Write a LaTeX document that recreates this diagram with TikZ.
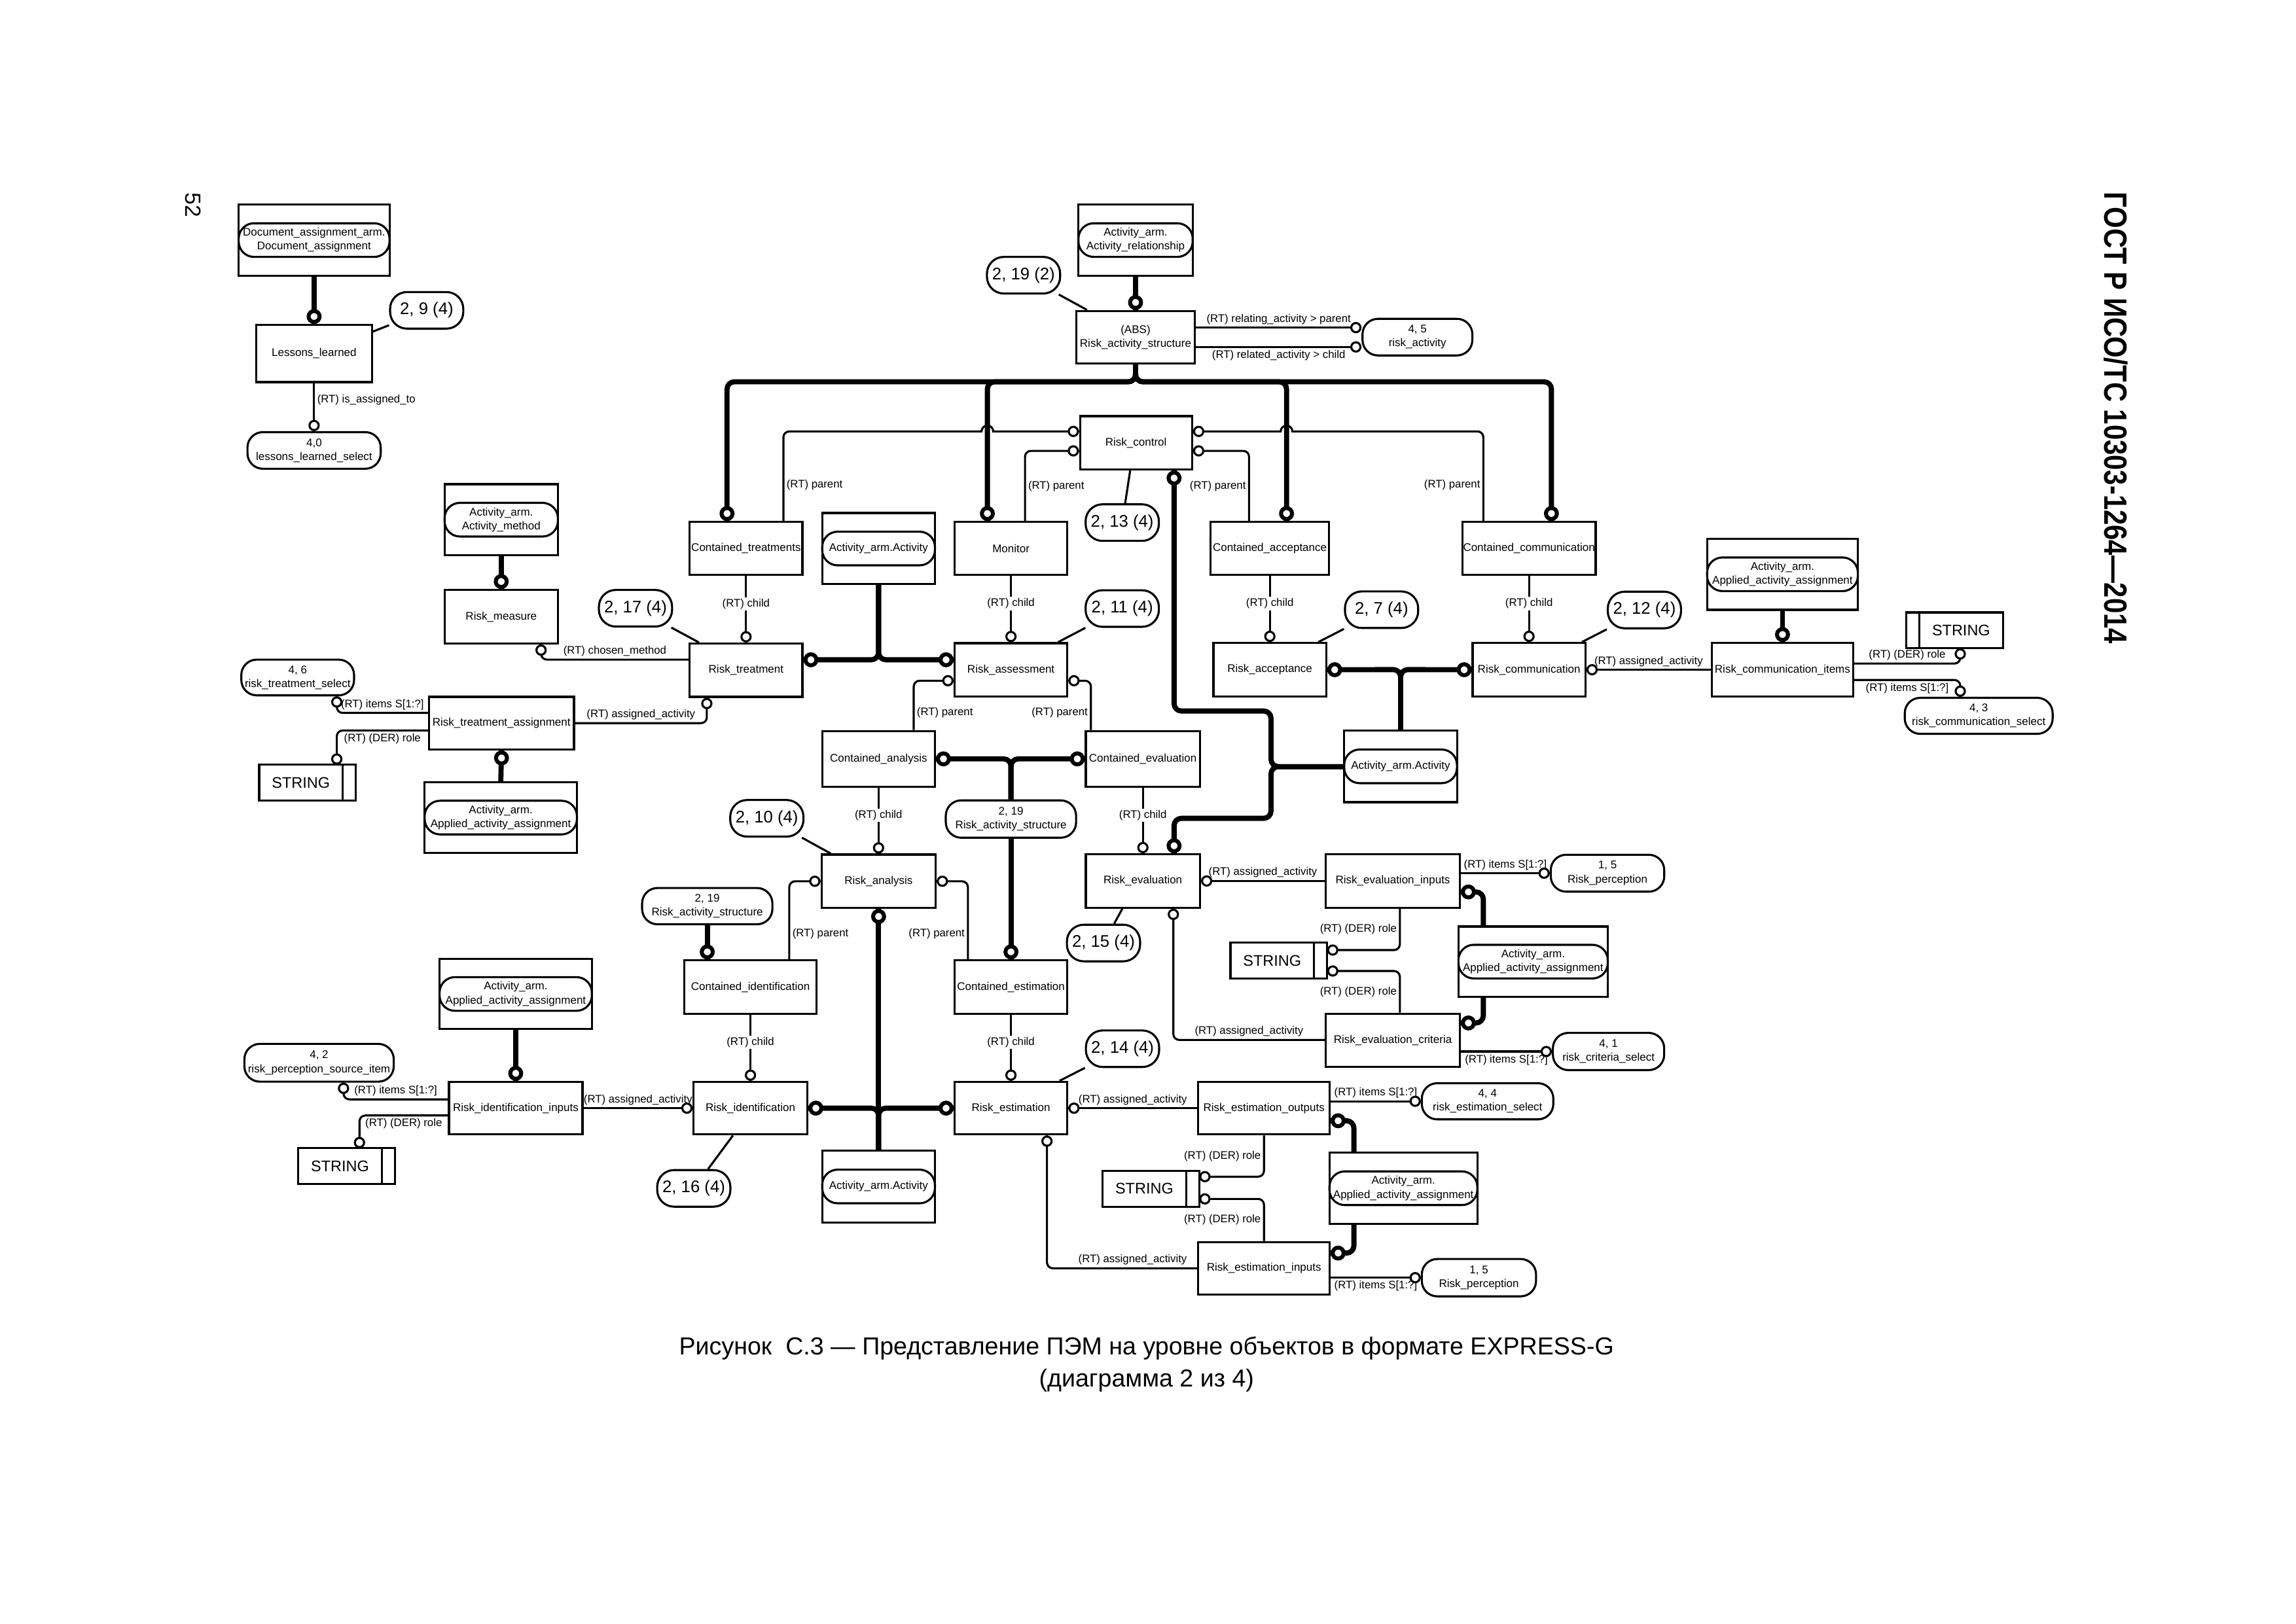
\documentclass[tikz,border=0pt]{standalone}
\usepackage{fontspec}
\setmainfont{Liberation Sans}
\newfontfamily\hdrfont{Liberation Sans}[FakeStretch=0.85]

\tikzset{
  ent/.style={draw, line width=1.4pt, minimum width=77pt, minimum height=36.5pt,
    inner sep=0pt, align=center, font=\fontsize{7.6}{9.5}\selectfont},
  ext/.style={draw, line width=1.4pt, minimum width=77pt, minimum height=48.5pt, inner sep=0pt},
  typ/.style={draw, line width=1.4pt, rounded corners=10.5pt, minimum width=77pt,
    minimum height=23pt, inner sep=0pt, align=center, font=\fontsize{7.6}{9.5}\selectfont},
  pg/.style={draw, line width=1.4pt, rounded corners=11.5pt, minimum width=50pt,
    minimum height=25pt, inner sep=0pt, font=\fontsize{11.5}{12}\selectfont},
  strbox/.style={draw, line width=1.4pt, minimum width=66pt, minimum height=24.5pt,
    inner sep=0pt, outer sep=0pt, font=\fontsize{10.5}{11}\selectfont},
  rel/.style={line width=1.4pt},
  sub/.style={line width=3.5pt, rounded corners=5pt},
  oc/.style={circle, draw, fill=white, line width=1.4pt, minimum size=6.3pt, inner sep=0pt},
  tc/.style={circle, draw, fill=white, line width=2.7pt, minimum size=7.5pt, inner sep=0pt},
  lab/.style={inner sep=1.5pt, font=\fontsize{7.5}{9}\selectfont},
  clab/.style={lab, fill=white, inner sep=1pt}
}

\begin{document}
\begin{tikzpicture}[x=1pt, y=-1pt]
\useasboundingbox (0,0) rectangle (1568,1109);

\node[rotate=-90, font=\fontsize{15}{15}\selectfont] (pnum) at (132,140) {52};
\node[rotate=-90, font=\hdrfont\bfseries\fontsize{22}{22}\selectfont] (hdr) at (1445,285.5) {ГОСТ Р ИСО/ТС 10303-1264—2014};

\node[ext, minimum width=103pt] (das) at (214.5,164) {};
\node[typ, minimum width=103pt] (das_p) at (das) {Document\_assignment\_arm.\\Document\_assignment};
\node[ent, minimum width=79pt, minimum height=39pt] (ll) at (214.5,241.5) {Lessons\_learned};
\node[pg] (p29) at (291.4,212) {2, 9 (4)};
\node[typ, minimum width=91pt, minimum height=25pt] (lls) at (214.5,307.7) {4,0\\lessons\_learned\_select};

\node[ext, minimum width=78pt] (aar) at (775.5,164) {};
\node[typ, minimum width=78pt] (aar_p) at (aar) {Activity\_arm.\\Activity\_relationship};
\node[ent, minimum width=81pt, minimum height=36pt] (ras) at (775.5,230.4) {(ABS)\\Risk\_activity\_structure};
\node[pg] (p192) at (699,188) {2, 19 (2)};
\node[typ, minimum width=75pt, minimum height=25pt] (rsa) at (968,230.3) {4, 5\\risk\_activity};

\node[ent, minimum width=76.5pt] (rc) at (775.8,302.5) {Risk\_control};
\node[pg] (p213) at (766.4,357) {2, 13 (4)};
\node[ent, minimum height=36pt] (ctr) at (509.5,374.6) {Contained\_treatments};
\node[ext] (aa1) at (600,374.7) {};
\node[typ] (aa1_p) at (aa1) {Activity\_arm.Activity};
\node[ent, minimum height=36pt] (mon) at (690.4,374.6) {Monitor};
\node[ent, minimum width=81pt, minimum height=36pt] (cacc) at (867.2,374.6) {Contained\_acceptance};
\node[ent, minimum width=91pt, minimum height=36pt] (ccom) at (1044.2,374.6) {Contained\_communication};

\node[ext, minimum width=77.4pt] (aam) at (342.3,355) {};
\node[typ, minimum width=77.4pt] (aam_p) at (aam) {Activity\_arm.\\Activity\_method};
\node[ent, minimum width=77.4pt] (rm) at (342.3,421.3) {Risk\_measure};
\node[pg] (p217) at (434,415.5) {2, 17 (4)};
\node[ent] (rt) at (509.5,457.8) {Risk\_treatment};
\node[ent] (ra) at (690.4,457.6) {Risk\_assessment};
\node[pg] (p211) at (766.4,415.7) {2, 11 (4)};
\node[ent] (racc) at (867.2,457.5) {Risk\_acceptance};
\node[pg] (p27) at (943.5,416.5) {2, 7 (4)};
\node[ent] (rcom) at (1044.2,457.5) {Risk\_communication};
\node[pg] (p212) at (1123,416.7) {2, 12 (4)};
\node[ent, minimum width=96.5pt] (rci) at (1217.3,457.5) {Risk\_communication\_items};
\node[ext, minimum width=103pt] (aaa2) at (1217.3,392.3) {};
\node[typ, minimum width=103pt] (aaa2_p) at (aaa2) {Activity\_arm.\\Applied\_activity\_assignment};
\node[strbox] (s2) at (1334.8,430.6) {\hspace*{9pt}STRING};
\node[typ, minimum width=101pt, minimum height=24.6pt] (rcs) at (1351.3,489) {4, 3\\risk\_communication\_select};

\node[typ, minimum height=24.4pt] (rts) at (203.3,462.8) {4, 6\\risk\_treatment\_select};
\node[ent, minimum width=99pt, minimum height=36pt] (rta) at (342.5,494) {Risk\_treatment\_assignment};
\node[strbox] (s1) at (210,534.6) {STRING\hspace*{9pt}};
\node[ext, minimum width=104pt, minimum height=48pt] (aaa1) at (342,558.5) {};
\node[typ, minimum width=104pt] (aaa1_p) at (aaa1) {Activity\_arm.\\Applied\_activity\_assignment};

\node[ent, minimum height=38pt] (cana) at (600,518.4) {Contained\_analysis};
\node[ent, minimum width=78pt, minimum height=38pt] (ceva) at (780.5,518.4) {Contained\_evaluation};
\node[typ, minimum width=89pt, minimum height=25.5pt] (rasA) at (690.4,559.5) {2, 19\\Risk\_activity\_structure};
\node[ext, minimum height=49pt] (aa2) at (956.5,523.5) {};
\node[typ] (aa2_p) at (aa2) {Activity\_arm.Activity};

\node[pg] (p210) at (523.7,559) {2, 10 (4)};
\node[ent, minimum width=78pt] (ran) at (600,602) {Risk\_analysis};
\node[ent, minimum width=78pt] (rev) at (780.5,601.8) {Risk\_evaluation};
\node[ent, minimum width=91.6pt] (rei) at (951.2,601.8) {Risk\_evaluation\_inputs};
\node[typ, minimum width=77.5pt, minimum height=25.2pt] (rp1) at (1097.8,596.5) {1, 5\\Risk\_perception};
\node[pg] (p215) at (753.6,644.2) {2, 15 (4)};
\node[strbox] (s3) at (873.3,656.3) {STRING\hspace*{9pt}};
\node[ext, minimum width=102pt, minimum height=48pt] (aaa3) at (1047,656.9) {};
\node[typ, minimum width=102pt] (aaa3_p) at (aaa3) {Activity\_arm.\\Applied\_activity\_assignment};
\node[ent, minimum width=91.6pt] (rec) at (951.2,710.7) {Risk\_evaluation\_criteria};
\node[typ, minimum width=76pt, minimum height=25.4pt] (rcr) at (1098.5,718.3) {4, 1\\risk\_criteria\_select};

\node[typ, minimum width=89pt, minimum height=24.8pt] (rasB) at (483,619) {2, 19\\Risk\_activity\_structure};
\node[ent, minimum width=90.2pt] (cid) at (512.5,674.3) {Contained\_identification};
\node[ent] (ces) at (690.4,674.3) {Contained\_estimation};

\node[ext, minimum width=104pt, minimum height=48pt] (aaa4) at (352.2,679) {};
\node[typ, minimum width=104pt] (aaa4_p) at (aaa4) {Activity\_arm.\\Applied\_activity\_assignment};
\node[typ, minimum width=102pt, minimum height=25.8pt] (rps) at (217.9,726) {4, 2\\risk\_perception\_source\_item};
\node[ent, minimum width=91.2pt, minimum height=36pt] (rii) at (352.2,757) {Risk\_identification\_inputs};
\node[strbox] (s4) at (236.7,796.6) {STRING\hspace*{9pt}};
\node[ent, minimum width=77.7pt, minimum height=36pt] (rid) at (512.5,757) {Risk\_identification};
\node[pg] (p216) at (473.8,811.8) {2, 16 (4)};
\node[ext, minimum height=49pt] (aa3) at (600,810.5) {};
\node[typ] (aa3_p) at (aa3) {Activity\_arm.Activity};
\node[ent, minimum height=36pt] (res) at (690.4,757) {Risk\_estimation};
\node[pg] (p214) at (766.6,716.4) {2, 14 (4)};
\node[ent, minimum width=89.7pt, minimum height=36pt] (reo) at (863.2,757) {Risk\_estimation\_outputs};
\node[typ, minimum width=89.8pt, minimum height=24.7pt] (rs4) at (1015.9,752.3) {4, 4\\risk\_estimation\_select};
\node[strbox] (s5) at (786,812) {STRING\hspace*{9pt}};
\node[ext, minimum width=101pt, minimum height=48.4pt] (aaa5) at (958.4,811.7) {};
\node[typ, minimum width=101pt] (aaa5_p) at (aaa5) {Activity\_arm.\\Applied\_activity\_assignment};
\node[ent, minimum width=89.7pt, minimum height=36pt] (rein) at (863.2,866.4) {Risk\_estimation\_inputs};
\node[typ, minimum width=78pt, minimum height=25.5pt] (rp2) at (1010,872.8) {1, 5\\Risk\_perception};

\foreach \s in {s1,s3,s4,s5}
  \draw[line width=1.4pt] ([xshift=-9pt]\s.north east) -- ([xshift=-9pt]\s.south east);
\draw[line width=1.4pt] ([xshift=9pt]s2.north west) -- ([xshift=9pt]s2.south west);

\node[font=\fontsize{16.8}{22}\selectfont, align=center] (cap) at (783,932)
  {Рисунок~~С.3 — Представление ПЭМ на уровне объектов в формате EXPRESS-G\\(диаграмма 2 из 4)};

\draw[sub] (das.south) -- (ll.north) node[tc,anchor=south]{};
\draw[rel] (ll.east |- 0,226.5) -- (p29);
\draw[rel] (ll) -- node[lab,right,pos=.35]{(RT) is\_assigned\_to} (lls.north) node[oc,anchor=south]{};

\draw[sub] (aar.south) -- (ras.north) node[tc,anchor=south]{};
\draw[rel] (p192) -- ([xshift=8pt]ras.north west);
\draw[rel] (ras.east |- 0,223.8) -- node[lab,above]{(RT) relating\_activity > parent} (rsa.west |- 0,223.8) node[oc,anchor=east]{};
\draw[rel] (ras.east |- 0,237) -- node[lab,below]{(RT) related\_activity > child} (rsa.west |- 0,237) node[oc,anchor=east]{};

\foreach \bx/\tgt in {496.5/ctr, 674.3/mon, 878.6/cacc, 1059.5/ccom}
  \draw[sub] (ras.south) -- (775.5,260.8) -- (\bx,260.8) -- (\tgt.north -| \bx,0) node[tc,anchor=south]{};

\draw[rel] (rc.west |- 0,294.7) node[oc,anchor=east]{} -- (678.3,294.7) arc(0:180:4pt)
  [rounded corners=4pt] -- (535,294.7) -- node[lab,right,pos=.6]{(RT) parent} (ctr.north -| 535,0);
\draw[rel] (rc.east |- 0,294.7) node[oc,anchor=west]{} -- (874.6,294.7) arc(180:0:4pt)
  [rounded corners=4pt] -- (1013,294.7) -- node[lab,left,pos=.6]{(RT) parent} (ccom.north -| 1013,0);
\draw[rel, rounded corners=4pt] (rc.west |- 0,308) node[oc,anchor=east]{} -- (700,308) -- node[lab,right,pos=.5]{(RT) parent} (mon.north -| 700,0);
\draw[rel, rounded corners=4pt] (rc.east |- 0,308) node[oc,anchor=west]{} -- (853,308) -- node[lab,left,pos=.5]{(RT) parent} (cacc.north -| 853,0);
\draw[rel] ([xshift=-4pt]rc.south) -- (p213);

\foreach \a/\b in {ctr/rt, mon/ra, cacc/racc, ccom/rcom, cana/ran, ceva/rev, cid/rid, ces/res}
  \draw[rel] (\a) -- node[clab,pos=.42]{(RT) child} (\b.north) node[oc,anchor=south]{};

\draw[sub] (aa1.south) -- (600,450.7) -- (rt.east |- 0,450.7) node[tc,anchor=west]{};
\draw[sub] (aa1.south) -- (600,450.7) -- (ra.west |- 0,450.7) node[tc,anchor=east]{};

\draw[rel] (p217) -- ([xshift=7pt]rt.north west);
\draw[rel] (p211) -- ([xshift=-7pt]ra.north east);
\draw[rel] (p27) -- ([xshift=-6pt]racc.north east);
\draw[rel] (p212) -- ([xshift=-3pt]rcom.north east);
\draw[rel] (p210) -- ([xshift=7pt]ran.north west);
\draw[rel] (p215) -- ([xshift=-14pt]rev.south);
\draw[rel] (p214) -- ([xshift=-6pt]res.north east);
\draw[rel] (p216) -- ([xshift=-12pt]rid.south);

\draw[rel, rounded corners=4pt] (ra.west |- 0,465) node[oc,anchor=east]{} -- (624,465) -- node[lab,right,pos=.65]{(RT) parent} (cana.north -| 624,0);
\draw[rel, rounded corners=4pt] (ra.east |- 0,465) node[oc,anchor=west]{} -- (745,465) -- node[lab,left,pos=.65]{(RT) parent} (ceva.north -| 745,0);

\draw[sub] (rasA.north) -- (690.4,518.4) -- (cana.east) node[tc,anchor=west]{};
\draw[sub] (rasA.north) -- (690.4,518.4) -- (ceva.west) node[tc,anchor=east]{};
\draw[sub] (rasA) -- (ces.north) node[tc,anchor=south]{};

\draw[rel, rounded corners=4pt] (ran.west) node[oc,anchor=east]{} -- (539,602) -- node[lab,right,pos=.67]{(RT) parent} (cid.north -| 539,0);
\draw[rel, rounded corners=4pt] (ran.east) node[oc,anchor=west]{} -- (661,602) -- node[lab,left,pos=.67]{(RT) parent} (ces.north -| 661,0);

\draw[sub] (aa3.north) -- (ran.south) node[tc,anchor=north]{};
\draw[sub] (aa3.north) -- (600,757) -- (rid.east) node[tc,anchor=west]{};
\draw[sub] (aa3.north) -- (600,757) -- (res.west) node[tc,anchor=east]{};

\draw[sub] (rasB) -- (cid.north -| rasB) node[tc,anchor=south]{};

\draw[sub] (aaa4.south) -- (rii.north) node[tc,anchor=south]{};
\draw[rel] (rii.east) -- node[lab,above]{(RT) assigned\_activity} (rid.west) node[oc,anchor=east]{};
\draw[rel, rounded corners=4pt] (rii.west |- 0,751) -- node[lab,above]{(RT) items S[1:?]} (234.6,751) -- (rps.south -| 234.6,0) node[oc,anchor=north]{};
\draw[rel, rounded corners=4pt] (rii.west |- 0,762) -- node[lab,below]{(RT) (DER) role} (245.5,762) -- (s4.north -| 245.5,0) node[oc,anchor=south]{};

\draw[sub] (aam.south) -- (rm.north) node[tc,anchor=south]{};
\draw[rel, rounded corners=4pt] (rm.south -| 369.5,0) node[oc,anchor=north]{} -- (369.5,450.6) -- node[lab,above]{(RT) chosen\_method} (rt.west |- 0,450.6);
\draw[rel, rounded corners=4pt] (rta.east) -- node[lab,above]{(RT) assigned\_activity} (482.7,494) -- (rt.south -| 482.7,0) node[oc,anchor=north]{};
\draw[sub] (aaa1.north) -- (rta.south) node[tc,anchor=north]{};
\draw[rel, rounded corners=4pt] (rta.west |- 0,487) -- node[lab,above]{(RT) items S[1:?]} (230,487) -- (rts.south -| 230,0) node[oc,anchor=north]{};
\draw[rel, rounded corners=4pt] (rta.west |- 0,499) -- node[lab,below]{(RT) (DER) role} (230,499) -- (s1.north -| 230,0) node[oc,anchor=south]{};

\draw[sub] (aaa2.south) -- (rci.north) node[tc,anchor=south]{};
\draw[rel] (rcom.east) node[oc,anchor=west]{} -- node[lab,above]{(RT) assigned\_activity} (rci.west);
\draw[rel, rounded corners=4pt] (rci.east |- 0,453.3) -- node[lab,above]{(RT) (DER) role} (1338.7,453.3) -- (s2.south -| 1338.7,0) node[oc,anchor=north]{};
\draw[rel, rounded corners=4pt] (rci.east |- 0,464.5) -- node[lab,below]{(RT) items S[1:?]} (1338.7,464.5) -- (rcs.north -| 1338.7,0) node[oc,anchor=south]{};

\draw[sub] (aa2.north) -- (956.5,457.4) -- (racc.east) node[tc,anchor=west]{};
\draw[sub] (aa2.north) -- (956.5,457.4) -- (rcom.west) node[tc,anchor=east]{};
\draw[sub] (aa2.west |- 0,523.7) -- (868,523.7) -- (868,485.7) -- (801.8,485.7) -- (rc.south -| 801.8,0) node[tc,anchor=north]{};
\draw[sub] (aa2.west |- 0,523.7) -- (868,523.7) -- (868,559) -- (801.8,559) -- (rev.north -| 801.8,0) node[tc,anchor=south]{};

\draw[rel] (rev.east) node[oc,anchor=west]{} -- node[lab,above]{(RT) assigned\_activity} (rei.west);
\draw[rel, rounded corners=4pt] (rev.south -| 801.3,0) node[oc,anchor=north]{} -- (801.3,710.4) -- node[lab,above]{(RT) assigned\_activity} (rec.west |- 0,710.4);
\draw[rel] (rei.east |- 0,596.5) -- node[lab,above]{(RT) items S[1:?]} (rp1.west) node[oc,anchor=east]{};
\draw[sub] (aaa3.north -| 1013,0) -- (1013,609.3) -- (rei.east |- 0,609.3) node[tc,anchor=west]{};
\draw[sub] (aaa3.south -| 1013,0) -- (1013,698.8) -- (rec.east |- 0,698.8) node[tc,anchor=west]{};
\draw[rel] (rec.east |- 0,718.3) -- node[lab,below]{(RT) items S[1:?]} (rcr.west) node[oc,anchor=east]{};
\draw[rel, rounded corners=4pt] (rei.south -| 956,0) -- node[lab,left]{(RT) (DER) role} (956,649) -- (s3.east |- 0,649) node[oc,anchor=west]{};
\draw[rel, rounded corners=4pt] (rec.north -| 956,0) -- node[lab,left]{(RT) (DER) role} (956,663.3) -- (s3.east |- 0,663.3) node[oc,anchor=west]{};

\draw[rel] (res.east) node[oc,anchor=west]{} -- node[lab,above]{(RT) assigned\_activity} (reo.west);
\draw[rel, rounded corners=4pt] (res.south -| 715,0) node[oc,anchor=north]{} -- (715,866.4) -- node[lab,above,pos=.57]{(RT) assigned\_activity} (rein.west);
\draw[rel] (reo.east |- 0,752.3) -- node[lab,above]{(RT) items S[1:?]} (rs4.west) node[oc,anchor=east]{};
\draw[rel] (rein.east |- 0,872.8) -- node[lab,below]{(RT) items S[1:?]} (rp2.west) node[oc,anchor=east]{};
\draw[sub] (aaa5.north -| 924.6,0) -- (924.6,765.6) -- (reo.east |- 0,765.6) node[tc,anchor=west]{};
\draw[sub] (aaa5.south -| 924.6,0) -- (924.6,856) -- (rein.east |- 0,856) node[tc,anchor=west]{};
\draw[rel, rounded corners=4pt] (reo.south) -- node[lab,left]{(RT) (DER) role} (863.2,803.8) -- (s5.east |- 0,803.8) node[oc,anchor=west]{};
\draw[rel, rounded corners=4pt] (rein.north) -- node[lab,left]{(RT) (DER) role} (863.2,819) -- (s5.east |- 0,819) node[oc,anchor=west]{};
\end{tikzpicture}
\end{document}
